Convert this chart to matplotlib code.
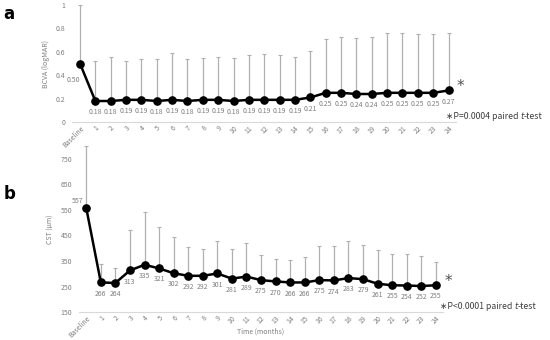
import numpy as np
import matplotlib.pyplot as plt

plt.rcParams['font.family'] = ['Noto Sans CJK JP', 'DejaVu Sans']

tick_labels = ['Baseline'] + [str(i) for i in range(1, 25)]

# panel a: BCVA (logMAR)
bcva_mean = [0.50, 0.18, 0.18, 0.19, 0.19, 0.18, 0.19, 0.18, 0.19, 0.19, 0.18, 0.19, 0.19,
             0.19, 0.19, 0.21, 0.25, 0.25, 0.24, 0.24, 0.25, 0.25, 0.25, 0.25, 0.27]
bcva_sd = [0.50, 0.34, 0.38, 0.33, 0.35, 0.36, 0.40, 0.36, 0.36, 0.37, 0.37, 0.38, 0.39,
           0.38, 0.37, 0.40, 0.46, 0.48, 0.48, 0.49, 0.51, 0.51, 0.50, 0.50, 0.49]

# panel b: CST (um)
cst_mean = [557, 266, 264, 313, 335, 321, 302, 292, 292, 301, 281, 289, 275,
            270, 266, 266, 275, 274, 283, 279, 261, 255, 254, 252, 255]
cst_sd = [241, 74, 60, 157, 208, 161, 142, 112, 105, 129, 116, 132, 99,
          87, 88, 100, 134, 135, 144, 135, 130, 123, 123, 116, 92]

gray_txt = '#7f7f7f'
bar_col = '#b0b0b0'
dark = '#404040'

fig = plt.figure(figsize=(5.5, 3.4), dpi=100)
ax_a = fig.add_axes([0.1315, 0.641, 0.698, 0.344])
ax_b = fig.add_axes([0.1436, 0.082, 0.662, 0.489])


def draw(ax, mean, sd, fmt, first_off):
    x = np.arange(len(mean))
    mean = np.array(mean)
    sd = np.array(sd)
    ax.errorbar(x, mean, yerr=[np.zeros_like(sd), sd], fmt='none', ecolor=bar_col,
                elinewidth=0.9, capsize=1.6, capthick=0.8, zorder=1, clip_on=False)
    ax.plot(x, mean, color='black', lw=1.8, marker='o', ms=5.2, zorder=3, clip_on=False)
    for i, (xi, v) in enumerate(zip(x, mean)):
        off = first_off if i == 0 else (0, -8)
        ax.annotate(fmt.format(v), (xi, v), xytext=off, textcoords='offset points',
                    ha='center', va='center', fontsize=5, color=gray_txt)
    ax.set_xlim(-0.5, len(mean) - 0.5)
    for s in ['top', 'right', 'left']:
        ax.spines[s].set_visible(False)
    ax.spines['bottom'].set_color('#d9d9d9')
    ax.spines['bottom'].set_linewidth(0.8)
    ax.set_xticks(x)
    ax.set_xticklabels(tick_labels, rotation=45, ha='right', rotation_mode='anchor',
                       fontsize=4.5, color=gray_txt)
    ax.tick_params(axis='both', length=0, labelsize=5, labelcolor=gray_txt)
    ax.tick_params(axis='x', pad=1.5)
    ax.tick_params(axis='y', pad=5)
    ax.set_xlabel('Time (months)', fontsize=5, color=gray_txt)


draw(ax_a, bcva_mean, bcva_sd, '{:.2f}', (-5, -12))
ax_a.set_ylim(0, 1)
ax_a.set_yticks([0, 0.2, 0.4, 0.6, 0.8, 1])
ax_a.set_yticklabels(['0', '0.2', '0.4', '0.6', '0.8', '1'])
ax_a.set_ylabel('BCVA (logMAR)', fontsize=5, color=gray_txt, labelpad=4)
ax_a.xaxis.set_label_coords(0.5, -0.27)

draw(ax_b, cst_mean, cst_sd, '{:.0f}', (-6, 5))
ax_b.set_ylim(150, 800)
ax_b.set_yticks(np.arange(150, 751, 100))
ax_b.set_ylabel('CST (\u03bcm)', fontsize=5, color=gray_txt, labelpad=4)
ax_b.xaxis.set_label_coords(0.5, -0.095)

# significance marks
for ax, m in [(ax_a, bcva_mean), (ax_b, cst_mean)]:
    ax.annotate('*', (24, m[-1]), xytext=(6, 3), textcoords='offset points',
                fontsize=11, color='#505050', ha='left', va='center', family='DejaVu Sans')


def ptext(ax, x, y, s):
    t1 = fig.text(x, y, s, fontsize=6.3, color=dark, ha='left', va='baseline')
    t2 = ax.annotate('t', xy=(1, 0), xycoords=t1, fontsize=6.3, color=dark,
                     style='italic', family='DejaVu Sans', ha='left', va='bottom',
                     annotation_clip=False)
    ax.annotate('-test', xy=(1, 0), xycoords=t2, fontsize=6.3, color=dark,
                ha='left', va='bottom', annotation_clip=False)


ptext(ax_a, 446 / 550, 1 - 119 / 340, '\u2217P=0.0004 paired ')
ptext(ax_b, 440 / 550, 1 - 309 / 340, '\u2217P<0.0001 paired ')

fig.text(0.006, 0.985, 'a', fontsize=12, fontweight='bold', va='top', family='DejaVu Sans')
fig.text(0.006, 0.455, 'b', fontsize=12, fontweight='bold', va='top', family='DejaVu Sans')

fig.savefig('out.png', dpi=100)
